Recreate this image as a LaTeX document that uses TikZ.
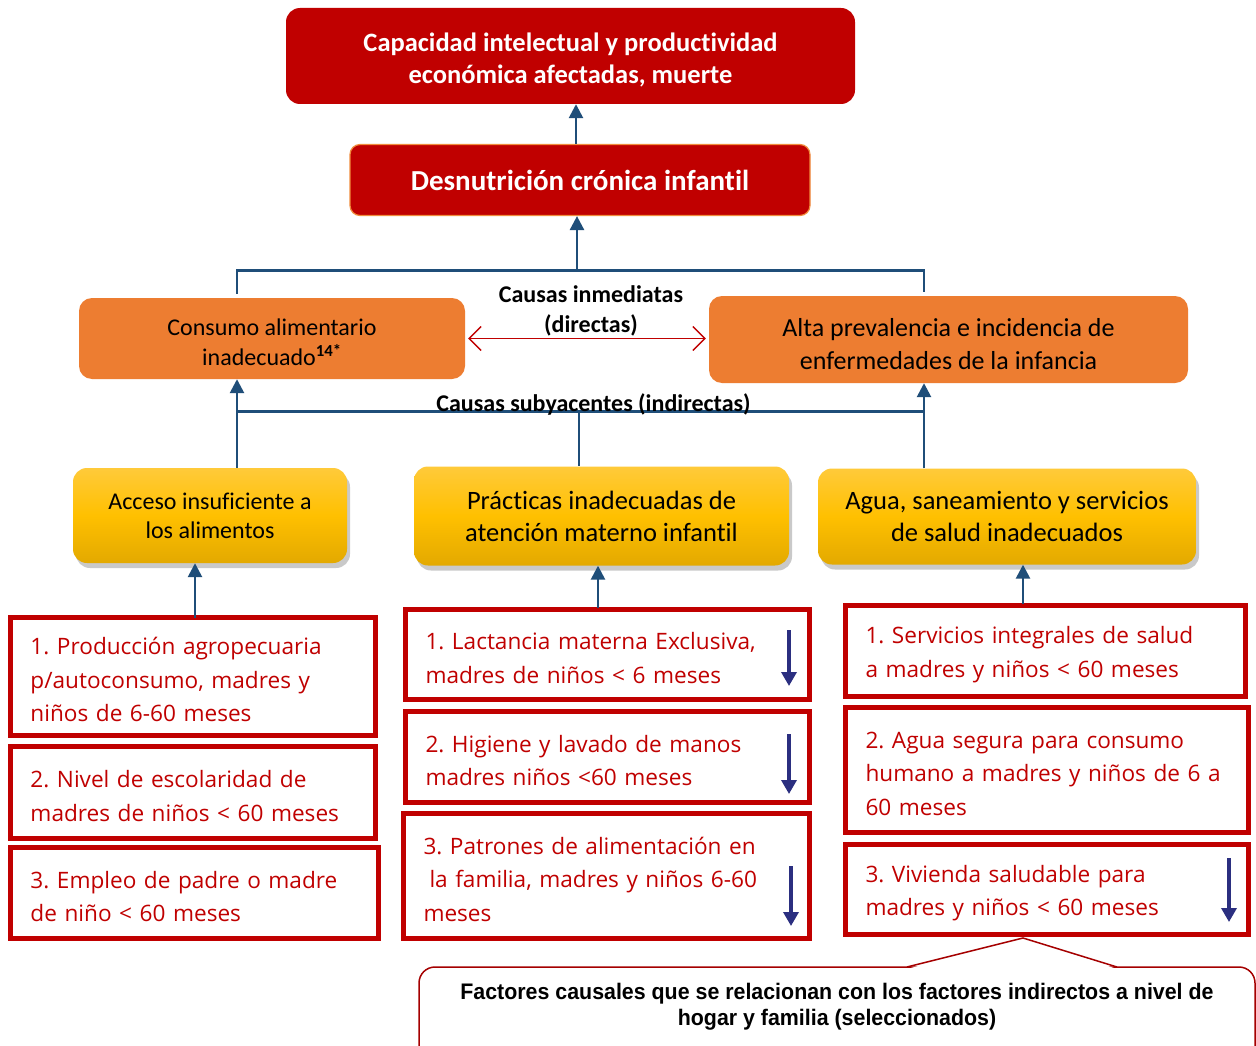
\documentclass[tikz,border=0pt]{standalone}
\usepackage{fontspec}
\setmainfont[Ligatures=NoCommon]{Carlito}
\newfontfamily\handfont{Open Sans}
\newfontfamily\notefont[FakeStretch=0.95]{Liberation Sans}
\usetikzlibrary{arrows.meta,shadows}

\definecolor{deepred}{HTML}{C00000}
\definecolor{boxorange}{HTML}{ED7D31}
\definecolor{rimorange}{HTML}{F08C3C}
\definecolor{linkblue}{HTML}{1F4E79}
\definecolor{navyarrow}{HTML}{2B2F80}
\definecolor{yelTop}{HTML}{FFCA3A}
\definecolor{yelMid}{HTML}{FFC000}
\definecolor{yelBot}{HTML}{E3A900}
\definecolor{calloutred}{HTML}{A50000}

\tikzset{
  lowered/.style={execute at begin node={\rule{0pt}{#1}}},
  boxtext/.style={align=center, inner sep=0pt},
  effectbox/.style={fill=deepred, rounded corners=14pt, text=white, align=center, inner sep=0pt},
  directbox/.style={fill=boxorange, rounded corners=13pt, text=black, align=center, inner sep=0pt},
  indirectbox/.style={top color=yelTop, bottom color=yelBot, middle color=yelMid,
    rounded corners=14pt, text=black, align=center, inner sep=0pt,
    drop shadow={shadow xshift=3pt, shadow yshift=-5pt, opacity=0.35, fill=black!60}},
  factorbox/.style={draw=deepred, line width=5pt, fill=white, text=deepred, align=left,
    inner xsep=20pt, inner ysep=0pt, lowered=24pt,
    font={\handfont\frenchspacing\fontsize{22.6}{33.5}\selectfont}},
  link/.style={draw=linkblue, line width=2.6pt},
  linkarrow/.style={link, -{Triangle[length=14pt,width=14pt]}},
  trend/.style={draw=navyarrow, line width=3.4pt, -{Triangle[length=14pt,width=15pt]}},
  bothways/.style={draw=deepred, line width=1.3pt,
    {Straight Barb[length=12pt,width=24pt,line width=1.3pt]}-{Straight Barb[length=12pt,width=24pt,line width=1.3pt]}},
  causelabel/.style={font={\bfseries\fontsize{24}{30}\selectfont}, align=center, inner sep=0pt},
  notebox/.style={draw=calloutred, line width=1.5pt, fill=white, rounded corners=16pt}
}

\begin{document}
\begin{tikzpicture}[x=1pt,y=-1pt]
\useasboundingbox (0,0) rectangle (1256,1046);
\clip (0,0) rectangle (1256,1046);
\fill[white] (0,0) rectangle (1256,1046);

% effects and the problem
\node[effectbox, minimum width=569pt, minimum height=96pt] (effect) at (570.5,56) {};
\node[boxtext, text=white, font={\bfseries\fontsize{26.5}{32}\selectfont}] (effect-text)
  at ([yshift=-4pt]effect.center)
  {Capacidad intelectual y productividad\\económica afectadas, muerte};
\node[effectbox, draw=rimorange, line width=1.2pt, rounded corners=10pt,
      minimum width=460pt, minimum height=71pt,
      font={\bfseries\fontsize{29}{32}\selectfont}] (dci) at (580,180)
  {Desnutrición crónica infantil};

% immediate causes
\node[directbox, minimum width=386pt, minimum height=81pt] (consumo) at (272,338.5) {};
\node[boxtext, font={\fontsize{24}{30}\selectfont}] (consumo-text) at ([yshift=-4pt]consumo.center)
  {Consumo alimentario\\inadecuado\textsuperscript{\bfseries 14*}};
\node[directbox, minimum width=479pt, minimum height=87pt] (enferm) at (948.5,339.5) {};
\node[boxtext, font={\fontsize{26}{33}\selectfont}] (enferm-text) at ([yshift=-4.5pt]enferm.center)
  {Alta prevalencia e incidencia de\\enfermedades de la infancia};

% underlying causes
\node[indirectbox, minimum width=274pt, minimum height=95pt,
      font={\fontsize{24}{29}\selectfont}] (acceso) at (210,515.5)
  {Acceso insuficiente a\\los alimentos};
\node[indirectbox, minimum width=375pt, minimum height=99pt,
      font={\fontsize{26.5}{32}\selectfont}] (practicas) at (601.5,516)
  {Prácticas inadecuadas de\\atención materno infantil};
\node[indirectbox, minimum width=378pt, minimum height=96pt,
      font={\fontsize{26.5}{32}\selectfont}] (agua) at (1007,516.5)
  {Agua, saneamiento y servicios\\de salud inadecuados};

% household factors
\node[factorbox, text width=325pt, minimum height=118pt] (fa1) at (193,676.5)
  {1. Producción agropecuaria\\p/autoconsumo, madres y\\niños de 6-60 meses};
\node[factorbox, text width=325pt, minimum height=92pt] (fa2) at (193,792.5)
  {2. Nivel de escolaridad de\\madres de niños < 60 meses};
\node[factorbox, text width=328pt, minimum height=91pt] (fa3) at (194.5,893)
  {3. Empleo de padre o madre\\de niño < 60 meses};

\node[factorbox, text width=364pt, minimum height=90pt] (fb1) at (607.5,654.5)
  {1. Lactancia materna Exclusiva,\\madres de niños < 6 meses};
\node[factorbox, text width=364pt, minimum height=91pt] (fb2) at (607.5,757)
  {2. Higiene y lavado de manos\\madres niños <60 meses};
\node[factorbox, text width=366pt, minimum height=125pt] (fb3) at (606.5,876)
  {3. Patrones de alimentación en\\\hspace{6pt}la familia, madres y niños 6-60\\meses};

\node[factorbox, text width=360pt, minimum height=91pt] (fc1) at (1045.5,651)
  {1. Servicios integrales de salud\\a madres y niños < 60 meses};
\node[factorbox, text width=363pt, minimum height=125pt] (fc2) at (1047,770)
  {2. Agua segura para consumo\\humano a madres y niños de 6~a\\60 meses};
\node[factorbox, text width=363pt, minimum height=90pt] (fc3) at (1047,889.5)
  {3. Vivienda saludable para\\madres y niños < 60 meses};

% junction points of the connector network
\coordinate (upL) at (237,270.5);
\coordinate (upR) at (924,270.5);
\coordinate (loL) at (237,411.5);
\coordinate (loM) at (579,411.5);
\coordinate (loR) at (924,411.5);
\coordinate (colA) at (195,0);
\coordinate (colB) at (598,0);
\coordinate (colC) at (1023,0);

% upper tree
\draw[linkarrow] (dci.north -| 576,0) -- (effect.south -| 576,0);
\draw[link, shorten <=4pt] (consumo.north -| upL) -- (upL) -- (upR) -- ([yshift=4pt]enferm.north -| upR);
\draw[linkarrow] (upL -| 577,0) -- (dci.south -| 577,0);

% labels of the two cause levels
\node[causelabel] (inmed) at (591,310.5) {Causas inmediatas\\(directas)};
\draw[bothways] ([xshift=3pt]consumo.east) -- ([xshift=-3pt]enferm.west |- consumo.east);

% lower tree
\draw[link] (loL) -- (loR);
\draw[linkarrow] (acceso.north -| loL) -- (consumo.south -| loL);
\draw[link] (loM) -- (practicas.north -| loM);
\draw[linkarrow] (agua.north -| loR) -- (enferm.south -| loR);
\node[causelabel] (subyac) at (593.5,404) {Causas subyacentes (indirectas)};

% factors feeding the underlying causes
\draw[linkarrow] ([yshift=-3pt]fa1.north -| colA) -- (acceso.south -| colA);
\draw[linkarrow] ([yshift=-1pt]fb1.north -| colB) -- (practicas.south -| colB);
\draw[linkarrow] ([yshift=-1pt]fc1.north -| colC) -- (agua.south -| colC);

% decreasing trends
\draw[trend] ([xshift=-23pt]fb1.east |- 0,630) -- ([xshift=-23pt]fb1.east |- 0,686);
\draw[trend] ([xshift=-23pt]fb2.east |- 0,734) -- ([xshift=-23pt]fb2.east |- 0,794);
\draw[trend] ([xshift=-21pt]fb3.east |- 0,866) -- ([xshift=-21pt]fb3.east |- 0,926);
\draw[trend] ([xshift=-22pt]fc3.east |- 0,858) -- ([xshift=-22pt]fc3.east |- 0,922);

% callout
\node[notebox, minimum width=836pt, minimum height=110pt] (notebg) at (837,1022) {};
\coordinate (tip) at (fc3.south -| colC);
\fill[white] (907,969) -- ([yshift=-1pt]tip) -- (1117,969) -- cycle;
\draw[calloutred, line width=1.5pt, line join=miter] (907,967) -- ([yshift=-1pt]tip) -- (1117,967);
\node[font={\notefont\bfseries\fontsize{22.5}{26}\selectfont}, align=center, inner sep=0pt] (note) at (837,1007)
  {Factores causales que se relacionan con los factores indirectos a nivel de\\hogar y familia (seleccionados)};
\end{tikzpicture}
\end{document}
